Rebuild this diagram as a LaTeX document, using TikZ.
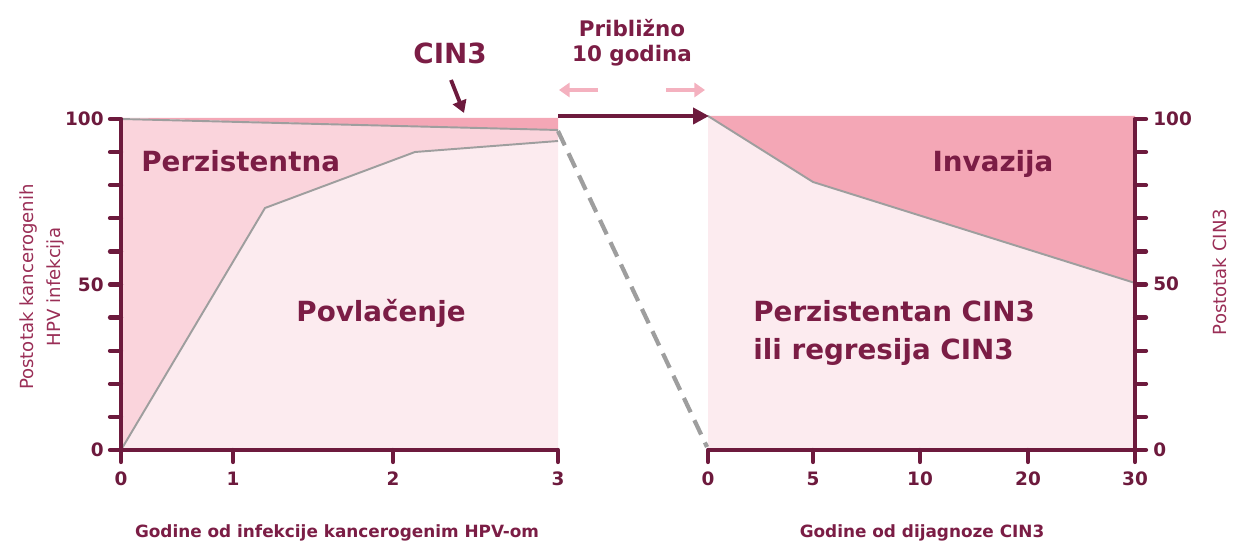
\documentclass[tikz,border=0pt]{standalone}
\usepackage{fontspec}
\setmainfont{DejaVu Sans}
\usetikzlibrary{arrows.meta}
\definecolor{maroon}{HTML}{6D1A3D}
\definecolor{txt}{HTML}{7B1D45}
\definecolor{ytitle}{HTML}{9A2E56}
\definecolor{darkpink}{HTML}{F4A7B6}
\definecolor{midpink}{HTML}{FAD4DC}
\definecolor{lightpink}{HTML}{FCEBEF}
\definecolor{arrowpink}{HTML}{F4B1BF}
\definecolor{curve}{HTML}{9E9E9E}
\tikzset{
  axisline/.style={draw=maroon, line width=2.6pt},
  tickline/.style={draw=maroon, line width=2.4pt, line cap=round},
  ticklabel/.style={text=maroon, font=\fontsize{10.5}{12}\selectfont\bfseries, inner sep=0pt},
  biglabel/.style={text=txt, font=\fontsize{15.8}{20}\selectfont\bfseries, inner sep=0pt},
  xtitle/.style={text=txt, font=\fontsize{9.6}{12}\selectfont\bfseries, inner sep=0pt},
  ytitlestyle/.style={text=ytitle, font=\fontsize{10.3}{15.4}\selectfont, inner sep=0pt, align=center, rotate=90},
  curveline/.style={draw=curve, line width=1.1pt},
}
\begin{document}
\begin{tikzpicture}[x=0.02cm, y=-0.02cm]
\useasboundingbox (0,0) rectangle (1239,546);
% ---------- left chart fills
\fill[darkpink] (121,118) -- (558,118) -- (558,130) -- cycle;
\fill[midpink] (121,119) -- (558,130) -- (558,141) -- (415,152) -- (265,208) -- (121,450) -- cycle;
\fill[lightpink] (121,450) -- (265,208) -- (415,152) -- (558,141) -- (558,450) -- cycle;
\draw[curveline] (121,119) -- (558,130);
\draw[curveline] (121,450) -- (265,208) -- (415,152) -- (558,141);
% ---------- right chart fills
\fill[darkpink] (708,116) -- (1135,116) -- (1135,283) -- (813,182) -- cycle;
\fill[lightpink] (708,116) -- (813,182) -- (1135,283) -- (1135,450) -- (708,450) -- cycle;
\draw[curveline] (708,116) -- (813,182) -- (1135,283);
% ---------- dashed connector
\coordinate (dashA) at (558,131);
\coordinate (dashB) at (707,447);
\draw[draw=curve, line width=2.4pt, dash pattern=on 9pt off 5pt] (dashA) -- (dashB);
% ---------- left axes
\draw[axisline] (121,118) -- (121,450) -- (558,450);
\foreach \i in {0,...,10} {
  \draw[tickline] (110,{450-33.1*\i}) -- (121,{450-33.1*\i});
}
\foreach \xx in {121,233,393,558} {
  \draw[tickline] (\xx,450) -- (\xx,462);
}
\node[ticklabel, anchor=east] (ly100) at (104,119) {100};
\node[ticklabel, anchor=east] (ly50) at (104,285) {50};
\node[ticklabel, anchor=east] (ly0) at (104,450) {0};
\node[ticklabel] (lx0) at (121,479) {0};
\node[ticklabel] (lx1) at (233,479) {1};
\node[ticklabel] (lx2) at (393,479) {2};
\node[ticklabel] (lx3) at (558,479) {3};
% ---------- right axes
\draw[axisline] (708,450) -- (1135,450) -- (1135,118);
\foreach \i in {0,...,10} {
  \draw[tickline] (1135,{450-33.1*\i}) -- (1146,{450-33.1*\i});
}
\foreach \xx in {708,813,920,1028,1135} {
  \draw[tickline] (\xx,450) -- (\xx,462);
}
\node[ticklabel, anchor=west] (ry100) at (1153,119) {100};
\node[ticklabel, anchor=west] (ry50) at (1153,284) {50};
\node[ticklabel, anchor=west] (ry0) at (1153,450) {0};
\node[ticklabel] (rx0) at (708,479) {0};
\node[ticklabel] (rx5) at (813,479) {5};
\node[ticklabel] (rx10) at (920,479) {10};
\node[ticklabel] (rx20) at (1028,479) {20};
\node[ticklabel] (rx30) at (1135,479) {30};
% ---------- region labels
\node[biglabel, anchor=west] (perz) at (141,161) {Perzistentna};
\node[biglabel] (povl) at (381,313) {Povlačenje};
\node[biglabel] (inv) at (993,164) {Invazija};
\node[biglabel, anchor=north west, align=left, font=\fontsize{15.8}{21.5}\selectfont\bfseries] (pcin) at (753,300) {Perzistentan CIN3\\ili regresija CIN3};
% ---------- top annotations
\node[biglabel] (cin3) at (450,53) {CIN3};
\coordinate (cinStart) at (451,80);
\coordinate (cinTip) at (464,113);
\draw[draw=maroon, line width=2.2pt, -{Triangle[length=7pt,width=8pt]}] (cinStart) -- (cinTip);
\node[text=txt, font=\fontsize{12.2}{14.5}\selectfont\bfseries, align=center, inner sep=0pt] (pribl) at (632,43) {Približno\\10 godina};
\coordinate (plA) at (598,90);
\coordinate (plB) at (559,90);
\coordinate (prA) at (666,90);
\coordinate (prB) at (705,90);
\draw[draw=arrowpink, line width=2.6pt, -{Triangle[length=6pt,width=8pt]}] (plA) -- (plB);
\draw[draw=arrowpink, line width=2.6pt, -{Triangle[length=6pt,width=8pt]}] (prA) -- (prB);
\coordinate (darrA) at (558,116);
\coordinate (darrB) at (709,116);
\draw[draw=maroon, line width=2.4pt, -{Triangle[length=9pt,width=9pt]}] (darrA) -- (darrB);
% ---------- axis titles
\node[ytitlestyle] (ltitle) at (42,287) {Postotak kancerogenih\\HPV infekcija};
\node[ytitlestyle] (rtitle) at (1220,272) {Postotak CIN3};
\node[xtitle] (lxtitle) at (337,533) {Godine od infekcije kancerogenim HPV-om};
\node[xtitle] (rxtitle) at (922,533) {Godine od dijagnoze CIN3};
\end{tikzpicture}
\end{document}
